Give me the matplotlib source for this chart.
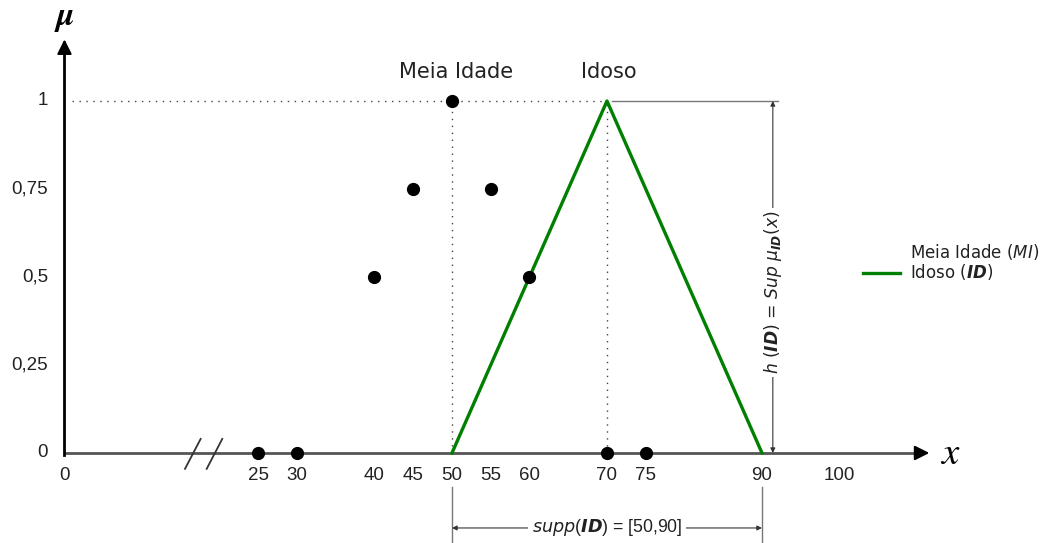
import matplotlib.pyplot as plt
from matplotlib.lines import Line2D

# Membership data
mi_x = [25, 30, 40, 45, 50, 55, 60, 70, 75]
mi_mu = [0, 0, 0.5, 0.75, 1, 0.75, 0.5, 0, 0]
id_x = [50, 70, 90]
id_mu = [0, 1, 0]

x_ticks = [0, 25, 30, 40, 45, 50, 55, 60, 70, 75, 90, 100]
y_ticks = [0, 0.25, 0.5, 0.75, 1]
y_tick_labels = ['0', '0,25', '0,5', '0,75', '1']

fig = plt.figure(figsize=(10.53, 5.43), dpi=100)
ax = fig.add_axes([0, 0, 1, 1])
ax.set_xlim(-8.32, 127.55)
ax.set_ylim(-0.2557, 1.2869)
ax.axis('off')

gray = '#777777'
tick_font = dict(family='Liberation Sans', fontsize=13.5, color='#222222')

# axes with arrows
ax.plot([0, 110.5], [0, 0], color='#555555', lw=2, solid_capstyle='butt', zorder=2)
ax.annotate('', xy=(111.6, 0), xytext=(110, 0),
            arrowprops=dict(arrowstyle='-|>', color='black', lw=1.5, mutation_scale=22,
                            shrinkA=0, shrinkB=0))
ax.plot([0, 0], [-0.005, 1.14], color='black', lw=2, zorder=2)
ax.annotate('', xy=(0, 1.175), xytext=(0, 1.135),
            arrowprops=dict(arrowstyle='-|>', color='black', lw=1.5, mutation_scale=22,
                            shrinkA=0, shrinkB=0))
ax.text(0, 1.238, r'$\boldsymbol{\mu}$', fontsize=24, ha='center', va='center',
        math_fontfamily='stix')
ax.text(114.3, 0.0, r'$x$', fontsize=28, ha='center', va='center', math_fontfamily='stix')

# axis break marks
ax.plot([15.55, 17.57], [-0.045, 0.04], color='#333333', lw=1.3)
ax.plot([18.35, 20.36], [-0.045, 0.04], color='#333333', lw=1.3)

# tick labels
for t in x_ticks:
    ax.text(t, -0.065, str(t), ha='center', va='center', **tick_font)
for t, lab in zip(y_ticks, y_tick_labels):
    ax.text(-2.1, t, lab, ha='right', va='center', **tick_font)

# guide lines
ax.plot([1, 70], [1, 1], color='#444444', lw=1, ls=(0, (1, 4)))
ax.plot([50, 50], [0, 1], color='#444444', lw=1, ls=(0, (1, 4)))
ax.plot([70, 70], [0, 1], color='#444444', lw=1, ls=(0, (1, 4)))
ax.plot([70.6, 92.1], [1, 1], color=gray, lw=1)

# height annotation
ax.annotate('', xy=(91.4, 1), xytext=(91.4, 0),
            arrowprops=dict(arrowstyle='<|-|>', color='#333333', lw=0.8, mutation_scale=7,
                            shrinkA=0, shrinkB=0))
ax.text(91.4, 0.457, r'$h$ ($\mathbfit{ID}$) = $Sup$ $\mu_{\mathbfit{ID}}(x)$',
        rotation=90, ha='center', va='center', fontsize=12.3, color='#222222',
        math_fontfamily='dejavusans',
        bbox=dict(facecolor='white', edgecolor='none', pad=2))

# support annotation
ax.plot([50, 50], [-0.097, -0.26], color=gray, lw=1)
ax.plot([90, 90], [-0.097, -0.26], color=gray, lw=1)
ax.annotate('', xy=(90, -0.213), xytext=(50, -0.213),
            arrowprops=dict(arrowstyle='<|-|>', color='#333333', lw=0.8, mutation_scale=7,
                            shrinkA=0, shrinkB=0))
ax.text(70, -0.213, r'$supp$($\mathbfit{ID}$) = [50,90]', ha='center', va='center',
        fontsize=12.7, color='#222222', family='Liberation Sans', math_fontfamily='dejavusans',
        bbox=dict(facecolor='white', edgecolor='none', pad=3))

# membership functions
ax.plot(id_x, id_mu, color='#008000', lw=2.4, zorder=3)
ax.plot(mi_x, mi_mu, 'o', color='black', ms=8.5, zorder=4)

ax.text(50.5, 1.082, 'Meia Idade', ha='center', va='center', fontsize=15, color='#222222')
ax.text(70.3, 1.082, 'Idoso', ha='center', va='center', fontsize=15, color='#222222')

handles = [Line2D([], [], linestyle='none'),
           Line2D([], [], color='#008000', lw=2.4)]
labels = ['Meia Idade ($\\mathit{MI}$)', 'Idoso ($\\mathbfit{ID}$)']
ax.legend(handles, labels, loc='center left', bbox_to_anchor=(863 / 1053, 1 - 262 / 543),
          frameon=False, fontsize=12, borderpad=0, borderaxespad=0, handlelength=2.2,
          handletextpad=0.6, labelspacing=0.05, labelcolor='#222222')

fig.savefig('out.png', dpi=100)
